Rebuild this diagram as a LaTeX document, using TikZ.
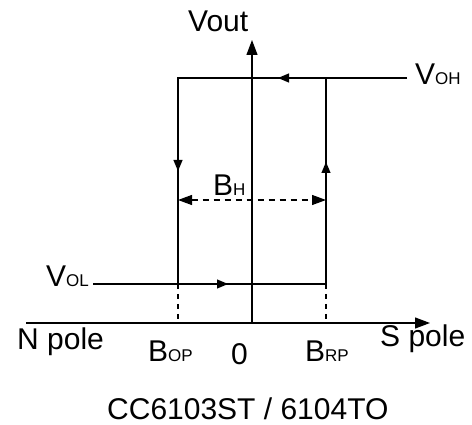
\documentclass[tikz,border=0pt]{standalone}
\usepackage{fontspec}
\setmainfont{Liberation Sans}
\usetikzlibrary{arrows.meta}
\newcommand{\lbl}[1]{{\fontsize{30}{34}\selectfont #1}}
\newcommand{\subtxt}[1]{{\fontsize{17}{17}\selectfont #1}}
\tikzset{
  curve/.style={line width=1.2pt},
  axis/.style={line width=1.2pt, -{Triangle[length=15pt,width=11pt]}},
  midarrow/.style={line width=1.2pt, -{Triangle[length=11pt,width=9pt]}},
  txt/.style={inner sep=0pt, anchor=base west},
}
\begin{document}
\begin{tikzpicture}[x=1pt,y=-1pt]
  \useasboundingbox (0,0) rectangle (472,425);
  % axes
  \coordinate (O) at (252,323);
  \draw[axis] (26,323) -- (430,323);
  \draw[axis] (O) -- (252,40);
  % hysteresis loop
  \draw[curve] (407,78) -- (178,78) -- (178,284);
  \draw[curve] (93,284) -- (326,284) -- (326,78);
  \draw[midarrow] (300,78) -- (278,78);
  \draw[midarrow] (178,150) -- (178,171);
  \draw[midarrow] (326,185) -- (326,162);
  \draw[midarrow] (205,284) -- (228,284);
  % dashed guides
  \foreach \x in {178,326} { \draw[curve, dash pattern=on 5pt off 5pt] (\x,284) -- (\x,323); }
  \draw[line width=1.2pt, dash pattern=on 6pt off 5pt, {Triangle[length=14pt,width=10pt]}-{Triangle[length=14pt,width=10pt]}]
    (178,200) -- (326,200);
  % labels
  \node[txt] (vout) at (188,32) {\lbl{Vout}};
  \node[txt] (voh) at (415,85) {\lbl{V\subtxt{OH}}};
  \node[txt] (vol) at (46,287) {\lbl{V\subtxt{OL}}};
  \node[txt] (bh) at (213,196) {\lbl{B\subtxt{H}}};
  \node[txt] (bop) at (148,362) {\lbl{B\subtxt{OP}}};
  \node[txt] (zero) at (231,364) {\lbl{0}};
  \node[txt] (brp) at (305,362) {\lbl{B\subtxt{RP}}};
  \node[txt] (npole) at (17,349) {\lbl{N pole}};
  \node[txt] (spole) at (380,347) {\lbl{S pole}};
  \node[txt] (part) at (107,419) {\lbl{CC6103ST / 6104TO}};
\end{tikzpicture}
\end{document}
